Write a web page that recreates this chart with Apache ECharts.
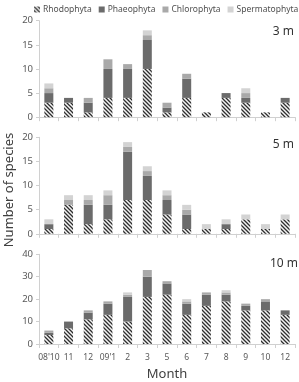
<!DOCTYPE html>
<html><head><meta charset="utf-8">
<script src="https://cdn.jsdelivr.net/npm/echarts@6/dist/echarts.min.js"></script>
<style>html,body{margin:0;padding:0;background:#fff}#c{width:299px;height:382px}</style>
</head><body><div id="c"></div>
<script>
const months = ["08'10","11","12","09'1","2","3","5","6","7","8","9","10","12"];
const groups = ["Rhodophyta","Phaeophyta","Chlorophyta","Spermatophyta"];
const depthLabels = ["3 m","5 m","10 m"];
const yMax = [20, 20, 40];
const yInterval = [5, 5, 10];
// 3 m
const rhodo3 = [3,3,1,4,4,10,1,4,1,4,3,1,3];
const phaeo3 = [2,1,2,6,6,6,1,4,0,1,1,0,1];
const chloro3 = [1,0,1,2,1,1,1,1,0,0,1,0,0];
const sperm3 = [1,0,0,0,0,1,0,0,0,0,1,0,0];
// 5 m
const rhodo5 = [1,6,2,3,7,7,4,1,1,1,3,1,3];
const phaeo5 = [1,0,4,3,10,5,3,3,0,1,0,0,0];
const chloro5 = [0,1,1,2,1,1,1,1,0,0,0,0,0];
const sperm5 = [1,1,1,1,1,1,1,1,1,1,1,1,1];
// 10 m
const rhodo10 = [4,7,11,13,10,21,22,13,17,19,15,15,13];
const phaeo10 = [1,3,3,5,11,9,5,5,5,3,2,4,2];
const chloro10 = [1,0,1,1,1,3,1,1,1,1,1,1,0];
const sperm10 = [0,0,0,0,1,0,0,1,0,1,0,0,0];

const data = [[rhodo3,phaeo3,chloro3,sperm3],[rhodo5,phaeo5,chloro5,sperm5],[rhodo10,phaeo10,chloro10,sperm10]];

const pc = document.createElement('canvas');
pc.width = 4; pc.height = 4;
const g = pc.getContext('2d');
g.fillStyle = '#f4f4f4'; g.fillRect(0,0,4,4);
g.strokeStyle = '#2e2e2e'; g.lineWidth = 1.3;
g.beginPath();
g.moveTo(-1,-1); g.lineTo(5,5);
g.moveTo(-1,3); g.lineTo(1,5);
g.moveTo(3,-1); g.lineTo(5,1);
g.stroke();
const colors = [{image: pc, repeat: 'repeat'}, '#6b6b6b', '#a9a9a9', '#d3d3d3'];

const font = '"Noto Sans", "DejaVu Sans", sans-serif';
const tops = [20.7, 137.3, 254.3];
const grids = [], xAxes = [], yAxes = [], series = [];
for (let i = 0; i < 3; i++) {
  grids.push({left: 39, width: 256, top: tops[i], height: 96.5});
  xAxes.push({type: 'category', gridIndex: i, data: months,
    axisLine: {lineStyle: {color: '#d0d0d0'}},
    axisTick: {show: true, lineStyle: {color: '#d0d0d0'}, length: 4},
    axisLabel: {show: i === 2, color: '#595959', fontSize: 8.5, fontFamily: font, margin: 9, interval: 0},
    name: i === 2 ? 'Month' : '', nameLocation: 'middle', nameGap: 24,
    nameTextStyle: {color: '#404040', fontSize: 13, fontFamily: font}});
  yAxes.push({type: 'value', gridIndex: i, min: 0, max: yMax[i], interval: yInterval[i],
    splitLine: {show: false},
    axisLine: {show: true, lineStyle: {color: '#d0d0d0'}},
    axisTick: {show: true, lineStyle: {color: '#d0d0d0'}, length: 3},
    axisLabel: {color: '#595959', fontSize: 9.5, fontFamily: font, margin: 6}});
  for (let k = 0; k < 4; k++) {
    series.push({name: groups[k], type: 'bar', stack: 's' + i, xAxisIndex: i, yAxisIndex: i,
      data: data[i][k], barWidth: 9, itemStyle: {color: colors[k]}, silent: true});
  }
}

const chart = echarts.init(document.getElementById('c'), null, {renderer: 'canvas'});
chart.setOption({
  animation: false,
  legend: {data: groups, top: 5, left: 34, width: 280, itemWidth: 6, itemHeight: 6, itemGap: 7, icon: 'rect',
    padding: 0,
    textStyle: {color: '#505050', fontSize: 8.5, fontFamily: font, padding: [0,0,0,-2]}},
  grid: grids, xAxis: xAxes, yAxis: yAxes, series: series,
  graphic: [
    {type: 'text', right: 5, top: 26, style: {text: depthLabels[0], fill: '#333', fontSize: 12, fontFamily: font}},
    {type: 'text', right: 5, top: 139, style: {text: depthLabels[1], fill: '#333', fontSize: 12, fontFamily: font}},
    {type: 'text', right: 1, top: 258, style: {text: depthLabels[2], fill: '#333', fontSize: 12, fontFamily: font}},
    {type: 'text', x: 9, y: 190, rotation: Math.PI / 2,
      style: {text: 'Number of species', fill: '#404040', fontSize: 13, fontFamily: font,
        textAlign: 'center', textVerticalAlign: 'middle'}}
  ]
});
</script></body></html>
